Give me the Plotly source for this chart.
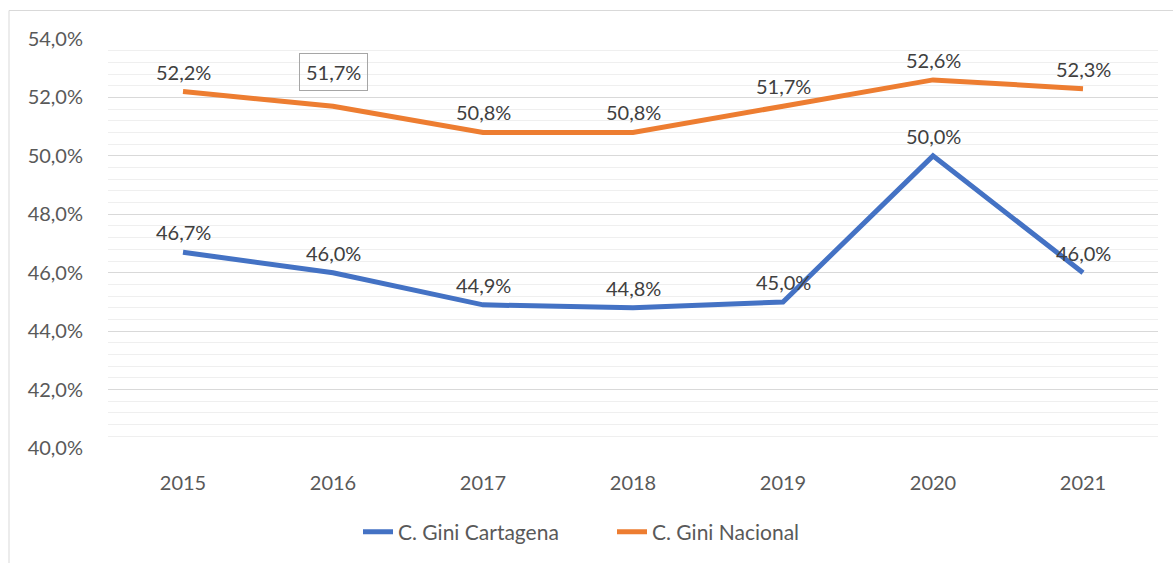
import plotly.graph_objects as go

years = ["2015", "2016", "2017", "2018", "2019", "2020", "2021"]
cartagena = [46.7, 46.0, 44.9, 44.8, 45.0, 50.0, 46.0]
nacional = [52.2, 51.7, 50.8, 50.8, 51.7, 52.6, 52.3]
y_ticks = [40, 42, 44, 46, 48, 50, 52, 54]

W, H = 1173, 563
L, R, T, B = 108, 15, 39, 115
pw, ph = W - L - R, H - T - B

def fmt(v):
    return f"{v:.1f}".replace(".", ",") + "%"

fig = go.Figure()
fig.add_trace(go.Scatter(x=years, y=cartagena, mode="lines", name="C. Gini Cartagena",
                         line=dict(color="#4472C4", width=5)))
fig.add_trace(go.Scatter(x=years, y=nacional, mode="lines", name="C. Gini Nacional",
                         line=dict(color="#ED7D31", width=5)))

annots = []
for series, key in ((cartagena, "c"), (nacional, "n")):
    for i, v in enumerate(series):
        boxed = (key == "n" and i == 1)
        a = dict(x=i, y=v, xref="x", yref="y", text=fmt(v),
                 showarrow=False, yanchor="middle", xanchor="center",
                 yshift=34 if boxed else 20,
                 font=dict(size=20, color="#404040", family="Lato"))
        if boxed:
            a.update(bordercolor="#a6a6a6", borderwidth=1, borderpad=6)
        annots.append(a)

fig.update_layout(
    width=W, height=H,
    margin=dict(l=L, r=R, t=T, b=B, autoexpand=False),
    paper_bgcolor="white", plot_bgcolor="white",
    font=dict(family="Lato", color="#595959", size=20),
    annotations=annots,
    showlegend=True,
    legend=dict(orientation="h", x=(358 - L) / pw, xanchor="left",
                y=(H - B - 532) / ph, yanchor="middle",
                entrywidth=209, entrywidthmode="pixels",
                font=dict(size=21, color="#595959")),
    shapes=[dict(type="rect", xref="paper", yref="paper",
                 x0=(9 - L) / pw, x1=(W + 20 - L) / pw,
                 y0=(H - B - (H + 20)) / ph, y1=(H - B - 10.5) / ph,
                 line=dict(color="#d9d9d9", width=1), layer="below")],
)
fig.update_xaxes(type="category", categoryorder="array", categoryarray=years,
                 range=[-0.5, len(years) - 0.5],
                 showgrid=False, showline=False, zeroline=False,
                 ticks="outside", ticklen=17, tickcolor="rgba(0,0,0,0)",
                 automargin=False, tickfont=dict(size=20, color="#595959"))
fig.update_yaxes(range=[40, 54], tickmode="array", tickvals=y_ticks,
                 ticktext=[fmt(v) for v in y_ticks],
                 showgrid=True, gridcolor="#d9d9d9", gridwidth=1, zeroline=False,
                 showline=False, ticks="outside", ticklen=20, tickcolor="rgba(0,0,0,0)",
                 automargin=False,
                 tickfont=dict(size=20, color="#595959"),
                 minor=dict(dtick=0.4, tick0=40, showgrid=True, gridcolor="#efefef", gridwidth=1))

fig.write_html("out.html", config={"displayModeBar": False},
               post_script="document.body.style.margin='0';")
